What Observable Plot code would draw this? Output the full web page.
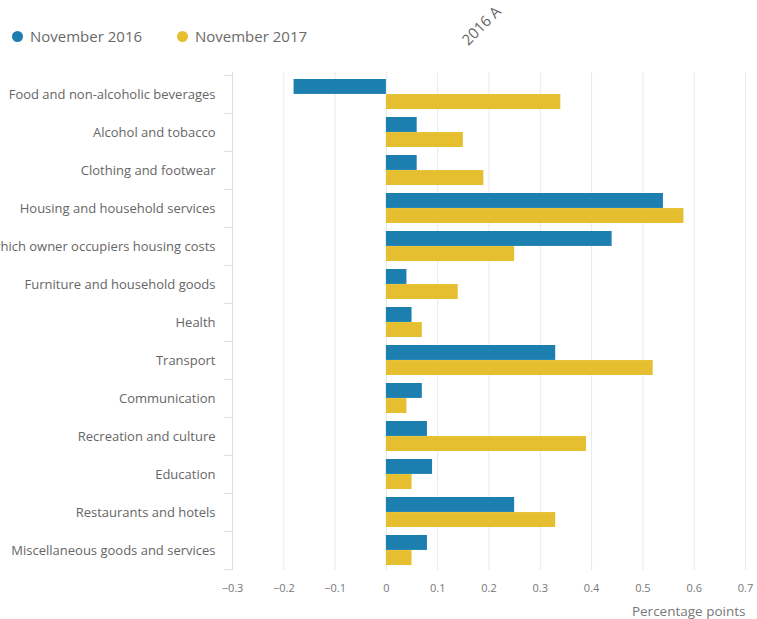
<!DOCTYPE html>
<html>
<head>
<meta charset="utf-8">
<script src="https://cdn.jsdelivr.net/npm/d3@7"></script>
<script src="https://cdn.jsdelivr.net/npm/@observablehq/plot@0.6"></script>
<style>
  html, body { margin: 0; padding: 0; background: #fff; }
  body { width: 757px; height: 619px; overflow: hidden; position: relative; font-family: "Open Sans", sans-serif; }
  #legend { position: absolute; left: 0; top: 0; width: 757px; height: 60px; }
  .sw { position: absolute; width: 11px; height: 11px; border-radius: 50%; top: 31px; }
  .lt { position: absolute; top: 26px; font-size: 15px; color: #6a6a6a; }
  #wm { position: absolute; left: 471px; top: 29px; font-size: 15px; color: #666; transform: rotate(-45deg); transform-origin: left bottom; white-space: nowrap; }
  #chart { position: absolute; left: 0; top: 60px; }
</style>
</head>
<body>
<div id="legend"></div>
<div id="wm">2016 A</div>
<div id="chart"></div>
<script>
const categories = [
  "Food and non-alcoholic beverages",
  "Alcohol and tobacco",
  "Clothing and footwear",
  "Housing and household services",
  "of which owner occupiers housing costs",
  "Furniture and household goods",
  "Health",
  "Transport",
  "Communication",
  "Recreation and culture",
  "Education",
  "Restaurants and hotels",
  "Miscellaneous goods and services"
];
const series = ["November 2016", "November 2017"];
const nov2016 = [-0.18, 0.06, 0.06, 0.54, 0.44, 0.04, 0.05, 0.33, 0.07, 0.08, 0.09, 0.25, 0.08];
const nov2017 = [0.34, 0.15, 0.19, 0.58, 0.25, 0.14, 0.07, 0.52, 0.04, 0.39, 0.05, 0.33, 0.05];
const xTicks = [-0.3, -0.2, -0.1, 0, 0.1, 0.2, 0.3, 0.4, 0.5, 0.6, 0.7];
const colors = ["#1c7fb0", "#e5bf2f"];

// legend
const legend = document.getElementById("legend");
const legendX = [12, 177];
series.forEach((s, i) => {
  const sw = document.createElement("div");
  sw.className = "sw"; sw.style.left = legendX[i] + "px"; sw.style.background = colors[i];
  legend.appendChild(sw);
  const t = document.createElement("div");
  t.className = "lt"; t.style.left = (legendX[i] + 18) + "px"; t.textContent = s;
  legend.appendChild(t);
});

const rows2016 = categories.map((c, i) => ({category: c, value: nov2016[i]}));
const rows2017 = categories.map((c, i) => ({category: c, value: nov2017[i]}));

const W = 757, H = 559;
const mTop = 12, mBottom = 49, yInsetTop = 2, yInsetBottom = 0;
const padI = 0.21;
const step = (H - mTop - mBottom - yInsetTop - yInsetBottom) / categories.length;
const bw = step * (1 - padI);

const chart = Plot.plot({
  width: W,
  height: H,
  marginLeft: 232,
  marginRight: 12,
  marginTop: mTop,
  marginBottom: mBottom,
  style: { fontFamily: "Open Sans, sans-serif", fontSize: "11px", color: "#666" },
  x: { domain: [-0.3, 0.7], ticks: xTicks },
  y: { domain: categories, paddingInner: padI, paddingOuter: padI / 2, align: 0.5, insetTop: yInsetTop, insetBottom: yInsetBottom },
  marks: [
    Plot.ruleX(xTicks, { stroke: "#e8e8e8", strokeWidth: 1 }),
    Plot.barX(rows2016, { x: "value", y: "category", fill: colors[0], insetBottom: bw / 2 }),
    Plot.barX(rows2017, { x: "value", y: "category", fill: colors[1], insetTop: bw / 2 }),
    Plot.axisX({ ticks: xTicks, tickSize: 0, tickPadding: 14, tickFormat: d => d3.format("")(d), fill: "#777", fontSize: 11, label: null }),
    Plot.text(["Percentage points"], { frameAnchor: "bottom-right", dy: 45, fill: "#777", fontSize: 13.5 }),
    Plot.axisY({ tickSize: 0, tickPadding: 17, fill: "#666", fontSize: 13, label: null }),
    Plot.axisY({ text: null, tickSize: 8, dy: -step / 2, stroke: "#ddd", label: null }),
    Plot.axisY([categories[categories.length - 1]], { text: null, tickSize: 8, dy: step / 2, stroke: "#ddd", label: null }),
    Plot.ruleX([-0.3], { stroke: "#ddd" })
  ]
});
document.getElementById("chart").appendChild(chart);
</script>
</body>
</html>
